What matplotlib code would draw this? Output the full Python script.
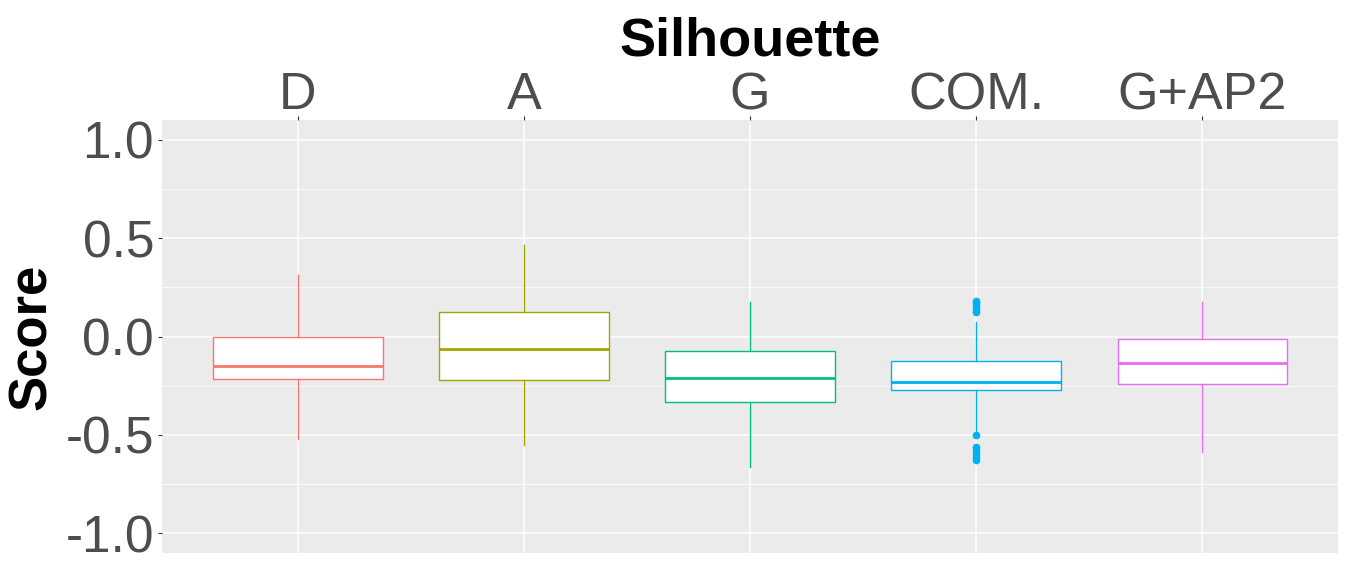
import matplotlib

matplotlib.use("Agg")

import matplotlib.pyplot as plt
from matplotlib.ticker import FormatStrFormatter, MultipleLocator

plt.rcParams["font.family"] = ["Liberation Sans", "DejaVu Sans"]

# Werte
groups = ["D", "A", "G", "COM.", "G+AP2"]
colors = ["#F8766D", "#A3A500", "#00BF7D", "#00B0F6", "#E76BF3"]
whis_lo = [-0.52, -0.552, -0.663, -0.48, -0.587]
q1 = [-0.218, -0.223, -0.334, -0.273, -0.243]
median = [-0.152, -0.061, -0.213, -0.231, -0.137]
q3 = [0.0, 0.127, -0.076, -0.123, -0.015]
whis_hi = [0.31, 0.466, 0.177, 0.072, 0.177]
fliers = [
    [],
    [],
    [],
    [0.182, 0.168, 0.155, 0.14, 0.127, -0.502, -0.56, -0.578, -0.595, -0.612, -0.628],
    [],
]

PANEL_BG = "#EBEBEB"
TEXT_GREY = "#4D4D4D"
TICK_GREY = "#333333"

fig = plt.figure(figsize=(13.46, 5.62), dpi=100)
ax = fig.add_axes([162 / 1346, 1 - 553 / 562, 1176 / 1346, 433 / 562])
ax.set_facecolor(PANEL_BG)

positions = list(range(1, len(groups) + 1))
for i, pos in enumerate(positions):
    stats = [{
        "whislo": whis_lo[i],
        "q1": q1[i],
        "med": median[i],
        "q3": q3[i],
        "whishi": whis_hi[i],
        "fliers": fliers[i],
    }]
    c = colors[i]
    ax.bxp(
        stats,
        positions=[pos],
        widths=0.75,
        patch_artist=True,
        showcaps=False,
        boxprops={"facecolor": "white", "edgecolor": c, "linewidth": 1.0},
        medianprops={"color": c, "linewidth": 2.0},
        whiskerprops={"color": c, "linewidth": 1.0},
        flierprops={"marker": "o", "markerfacecolor": c, "markeredgecolor": c,
                    "markersize": 4.5, "linestyle": "none"},
        zorder=3,
    )

ax.set_xlim(0.4, 5.6)
ax.set_ylim(-1.1, 1.1)
ax.set_xticks(positions)
ax.set_xticklabels(groups)
ax.yaxis.set_major_locator(MultipleLocator(0.5))
ax.yaxis.set_minor_locator(MultipleLocator(0.25))
ax.yaxis.set_major_formatter(FormatStrFormatter("%.1f"))

ax.grid(which="major", color="white", linewidth=1.1)
ax.grid(which="minor", axis="y", color="white", linewidth=0.55)
ax.set_axisbelow(True)
for s in ax.spines.values():
    s.set_visible(False)

ax.xaxis.tick_top()
ax.tick_params(axis="x", which="major", top=True, bottom=False, labeltop=True,
               labelbottom=False, length=2.75, width=0.8, color=TICK_GREY,
               labelsize=37.5, labelcolor=TEXT_GREY, pad=-3)
ax.tick_params(axis="y", which="major", length=2.75, width=0.8, color=TICK_GREY,
               labelsize=37, labelcolor=TEXT_GREY, pad=3)
ax.tick_params(axis="y", which="minor", length=0)

ax.set_ylabel("Score", fontsize=38, fontweight="bold", labelpad=6)
fig.text(750 / 1346, 1 - 41 / 562, "Silhouette", ha="center", va="center",
         fontsize=39, fontweight="bold")

fig.savefig("out.png", dpi=100)
